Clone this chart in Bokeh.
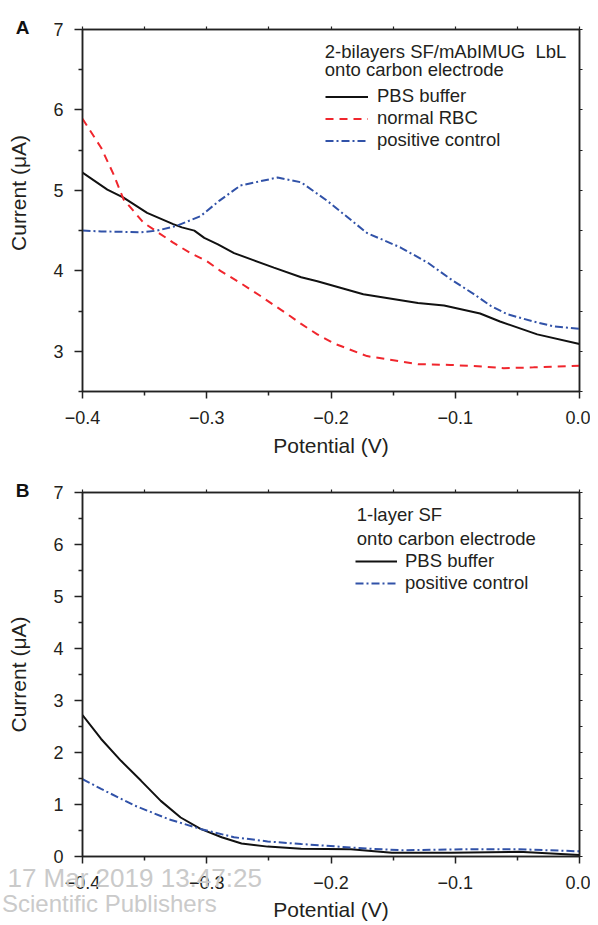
import math
from bokeh.plotting import figure
from bokeh.models import (LinearAxis, FixedTicker, Range1d, Label, Legend, LegendItem,
                          CustomJSTickFormatter)
from bokeh.layouts import column
from bokeh.embed import file_html
from bokeh.resources import INLINE

FONT = "Liberation Sans"
TXT = "#231f20"
BLACK = "#111111"
RED = "#f0262d"
BLUE = "#3152a8"
WM = "#cacaca"

# ---------------- data ----------------
# Panel A: 2-bilayers SF/mAbIMUG LbL onto carbon electrode
a_pbs_v = [-0.400, -0.380, -0.367, -0.348, -0.327, -0.320, -0.310, -0.302, -0.291, -0.278,
           -0.262, -0.246, -0.224, -0.211, -0.174, -0.130, -0.109, -0.080, -0.064, -0.034, 0.000]
a_pbs_i = [5.22, 5.01, 4.91, 4.72, 4.58, 4.54, 4.50, 4.41, 4.33, 4.22,
           4.13, 4.04, 3.92, 3.87, 3.71, 3.60, 3.57, 3.47, 3.37, 3.21, 3.09]

a_rbc_v = [-0.400, -0.385, -0.375, -0.367, -0.351, -0.327, -0.313, -0.300, -0.289, -0.273,
           -0.257, -0.235, -0.224, -0.211, -0.198, -0.171, -0.130, -0.104, -0.077, -0.061,
           -0.037, 0.000]
a_rbc_i = [5.89, 5.53, 5.20, 4.89, 4.60, 4.35, 4.22, 4.12, 4.00, 3.85,
           3.69, 3.46, 3.34, 3.21, 3.10, 2.94, 2.84, 2.83, 2.81, 2.79,
           2.80, 2.82]

a_pos_v = [-0.400, -0.385, -0.353, -0.340, -0.324, -0.305, -0.290, -0.273, -0.243, -0.224,
           -0.203, -0.171, -0.144, -0.122, -0.104, -0.085, -0.071, -0.058, -0.037, -0.021, 0.000]
a_pos_i = [4.50, 4.49, 4.48, 4.50, 4.56, 4.68, 4.87, 5.06, 5.16, 5.10,
           4.87, 4.47, 4.29, 4.10, 3.90, 3.71, 3.56, 3.46, 3.37, 3.31, 3.28]

# Panel B: 1-layer SF onto carbon electrode
b_pbs_v = [-0.400, -0.385, -0.369, -0.353, -0.337, -0.321, -0.305, -0.288, -0.272, -0.251,
           -0.224, -0.184, -0.151, -0.103, -0.049, 0.000]
b_pbs_i = [2.72, 2.26, 1.84, 1.46, 1.07, 0.75, 0.53, 0.37, 0.25, 0.19,
           0.15, 0.14, 0.07, 0.07, 0.09, 0.03]

b_pos_v = [-0.400, -0.385, -0.358, -0.331, -0.305, -0.278, -0.251, -0.224, -0.170, -0.143,
           -0.090, -0.049, 0.000]
b_pos_i = [1.49, 1.30, 0.98, 0.72, 0.53, 0.37, 0.29, 0.24, 0.15, 0.12,
           0.14, 0.14, 0.10]

x_ticks = [-0.4, -0.3, -0.2, -0.1, 0.0]
x_minor = [-0.35, -0.25, -0.15, -0.05]
x_top_ticks = [-0.4, -0.35, -0.3, -0.25, -0.2, -0.15, -0.1, -0.05, 0.0]
a_y_ticks = [3, 4, 5, 6, 7]
a_y_minor = [2.5, 3.5, 4.5, 5.5, 6.5]
a_right_ticks = [2.5, 3, 3.5, 4, 4.5, 5, 5.5, 6, 6.5, 7]
b_y_ticks = [0, 1, 2, 3, 4, 5, 6, 7]
b_y_minor = [0.5, 1.5, 2.5, 3.5, 4.5, 5.5, 6.5]
b_right_ticks = [0, 0.5, 1, 1.5, 2, 2.5, 3, 3.5, 4, 4.5, 5, 5.5, 6, 6.5, 7]

# watermark texts seen in the reference (anchored at a potential value)
wm_line1 = "17 Mar 2019 13:47:25"
wm_line1_at = -0.358
wm_line2 = "Scientific Publishers"
wm_line2_at = -0.3784

x_fmt_code = "return (tick < -1e-9 ? '\u2212' : '') + Math.abs(tick).toFixed(1);"
blank_code = "return '';"
X_LABEL = "Potential (V)"
Y_LABEL = "Current (\u03bcA)"


def style_axes(p, y_ticks, y_minor, right_ticks, x_label, y_label, x_lbl_std):
    p.grid.visible = False
    p.outline_line_color = "#222222"
    p.outline_line_width = 1.5
    xa = p.below[0]
    ya = p.left[0]
    xa.ticker = FixedTicker(ticks=x_ticks, minor_ticks=x_minor)
    xa.formatter = CustomJSTickFormatter(code=x_fmt_code)
    xa.major_tick_out = 7
    xa.major_tick_in = 0
    xa.minor_tick_out = 4
    xa.minor_tick_in = 0
    xa.major_label_standoff = 12
    xa.axis_label = x_label
    xa.axis_label_standoff = x_lbl_std
    ya.ticker = FixedTicker(ticks=y_ticks, minor_ticks=y_minor)
    ya.major_tick_out = 8
    ya.major_tick_in = 0
    ya.minor_tick_out = 4
    ya.minor_tick_in = 0
    ya.major_label_standoff = 11
    ya.axis_label = y_label
    ya.axis_label_standoff = 20
    for ax in (xa, ya):
        ax.axis_line_color = "#222222"
        ax.axis_line_width = 1.5
        ax.major_tick_line_color = "#222222"
        ax.minor_tick_line_color = "#222222"
        ax.major_tick_line_width = 1.5
        ax.minor_tick_line_width = 1.5
        ax.major_label_text_font = FONT
        ax.major_label_text_font_size = "18px"
        ax.major_label_text_color = TXT
        ax.axis_label_text_font = FONT
        ax.axis_label_text_font_size = "21px"
        ax.axis_label_text_font_style = "normal"
        ax.axis_label_text_color = TXT
    top = LinearAxis(ticker=FixedTicker(ticks=x_top_ticks, minor_ticks=[]),
                     formatter=CustomJSTickFormatter(code=blank_code),
                     major_tick_out=3, major_tick_in=0, minor_tick_out=0, minor_tick_in=0,
                     axis_line_color="#222222", axis_line_width=1.5,
                     major_tick_line_color="#222222", major_tick_line_width=1.2,
                     major_label_standoff=0, major_label_text_font_size="1px")
    p.add_layout(top, "above")
    right = LinearAxis(ticker=FixedTicker(ticks=right_ticks, minor_ticks=[]),
                       formatter=CustomJSTickFormatter(code=blank_code),
                       major_tick_out=3, major_tick_in=0, minor_tick_out=0, minor_tick_in=0,
                       axis_line_color="#222222", axis_line_width=1.5,
                       major_tick_line_color="#222222", major_tick_line_width=1.2,
                       major_label_standoff=0, major_label_text_font_size="1px")
    p.add_layout(right, "right")


def panel_letter(p, letter):
    t = p.title
    t.text = letter
    t.align = "left"
    t.offset = -66.7
    t.standoff = -23
    t.vertical_align = "bottom"
    t.text_font = FONT
    t.text_font_size = "19px"
    t.text_font_style = "bold"
    t.text_color = "#111111"


def lbl(p, x, y, text, size="18.5px"):
    p.add_layout(Label(x=x, y=y, x_units="screen", y_units="screen", text=text,
                       text_font=FONT, text_font_size=size, text_color=TXT,
                       text_baseline="alphabetic", text_align="left"))


def text_axis(p, at, text, size, standoff, axis_label="", als=0):
    ax = LinearAxis(ticker=FixedTicker(ticks=[at], minor_ticks=[]),
                    formatter=CustomJSTickFormatter(code="return %r;" % text),
                    axis_line_color=None, major_tick_line_color=None,
                    minor_tick_line_color=None, major_tick_out=0, major_tick_in=0,
                    minor_tick_out=0, minor_tick_in=0,
                    major_label_standoff=standoff, major_label_text_font=FONT,
                    major_label_text_font_size=size, major_label_text_color=WM,
                    axis_label=axis_label, axis_label_standoff=als,
                    axis_label_text_font=FONT, axis_label_text_font_size="21px",
                    axis_label_text_font_style="normal", axis_label_text_color=TXT)
    p.add_layout(ax, "below")


# ---------------- Panel A ----------------
pa = figure(width=590, height=470, x_range=Range1d(-0.4, 0.0), y_range=Range1d(2.5, 7.0),
            output_backend="svg", toolbar_location=None,
            min_border_left=82, min_border_right=11, min_border_top=29, min_border_bottom=79)
style_axes(pa, a_y_ticks, a_y_minor, a_right_ticks, X_LABEL,
           "\u00a0" * 6 + Y_LABEL, 7)
panel_letter(pa, "A")

ra1 = pa.line(a_pbs_v, a_pbs_i, line_color=BLACK, line_width=2)
ra2 = pa.line(a_rbc_v, a_rbc_i, line_color=RED, line_width=2, line_dash="8 6")
ra3 = pa.line(a_pos_v, a_pos_i, line_color=BLUE, line_width=2, line_dash="8 3 2 3")

leg_a = Legend(items=[LegendItem(label="PBS buffer", renderers=[ra1]),
                      LegendItem(label="normal RBC", renderers=[ra2]),
                      LegendItem(label="positive control", renderers=[ra3])],
               location=(243, 240), glyph_width=43, glyph_height=21, label_height=21,
               label_standoff=9, spacing=0, padding=0, margin=0,
               border_line_color=None, background_fill_alpha=0,
               label_text_font=FONT, label_text_font_size="18.5px", label_text_color=TXT)
pa.add_layout(leg_a)

lbl(pa, 242.3, 340.2, "2-bilayers SF/mAbIMUG\u00a0 LbL")
lbl(pa, 242.3, 321.9, "onto carbon electrode")

# ---------------- Panel B ----------------
pb = figure(width=590, height=455, x_range=Range1d(-0.4, 0.0), y_range=Range1d(0.0, 7.0),
            output_backend="svg", toolbar_location=None,
            min_border_left=82, min_border_right=11, min_border_top=22, min_border_bottom=69)
style_axes(pb, b_y_ticks, b_y_minor, b_right_ticks, "", Y_LABEL, 0)
panel_letter(pb, "B")
text_axis(pb, wm_line1_at, wm_line1, "26px", -29)
text_axis(pb, wm_line2_at, wm_line2, "24px", -6, axis_label=X_LABEL, als=-22)

rb1 = pb.line(b_pbs_v, b_pbs_i, line_color=BLACK, line_width=2)
rb2 = pb.line(b_pos_v, b_pos_i, line_color=BLUE, line_width=2, line_dash="8 3 2 3")

leg_b = Legend(items=[LegendItem(label="PBS buffer", renderers=[rb1]),
                      LegendItem(label="positive control", renderers=[rb2])],
               location=(273, 262.5), glyph_width=42, glyph_height=22, label_height=22,
               label_standoff=8, spacing=0, padding=0, margin=0,
               border_line_color=None, background_fill_alpha=0,
               label_text_font=FONT, label_text_font_size="18.5px", label_text_color=TXT)
pb.add_layout(leg_b)

lbl(pb, 274.3, 341.7, "1-layer SF")
lbl(pb, 274.3, 318.0, "onto carbon electrode")

layout = column(pa, pb, spacing=0)
open("out.html", "w", encoding="utf-8").write(file_html(layout, INLINE))
